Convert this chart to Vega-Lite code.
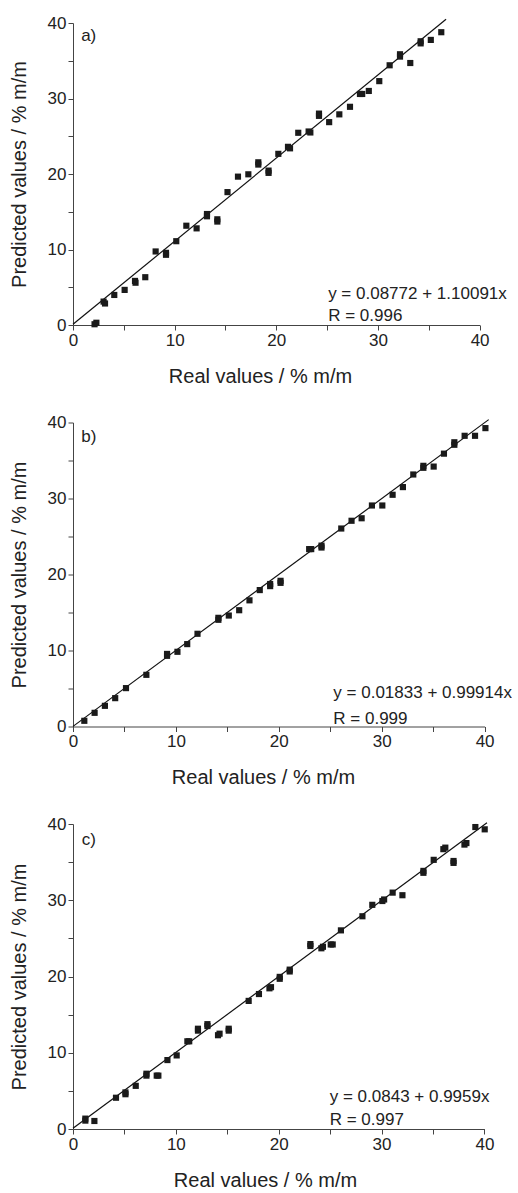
{
  "$schema": "https://vega.github.io/schema/vega-lite/v6.json",
  "padding": {"top": 14, "left": 9, "right": 0, "bottom": 0},
  "background": "white",
  "bounds": "flush",
  "spacing": 97.5,
  "config": {
    "view": {"stroke": null},
    "font": "Liberation Sans",
    "axis": {
      "domainColor": "#444", "tickColor": "#444", "labelColor": "#222", "titleColor": "#222",
      "labelFontSize": 17, "titleFontSize": 20, "titleFontWeight": "normal",
      "labelFont": "Liberation Sans", "titleFont": "Liberation Sans",
      "grid": false, "tickSize": 5, "labelFlush": false, "labelOverlap": false,
      "values": [0, 5, 10, 15, 20, 25, 30, 35, 40],
      "labelExpr": "datum.value % 10 === 0 ? datum.label : ''"
    },
    "axisX": {"titlePadding": 18},
    "axisY": {"titlePadding": 18}
  },
  "datasets": {
    "ptsA": [
      {"real": 2.12, "pred": 0.1}, {"real": 2.3, "pred": 0.3},
      {"real": 3.01, "pred": 3.1}, {"real": 3.15, "pred": 2.85},
      {"real": 4.06, "pred": 3.98},
      {"real": 5.08, "pred": 4.65},
      {"real": 6.1, "pred": 5.84}, {"real": 6.15, "pred": 5.6},
      {"real": 7.11, "pred": 6.33},
      {"real": 8.13, "pred": 9.74},
      {"real": 9.15, "pred": 9.56}, {"real": 9.15, "pred": 9.3},
      {"real": 10.16, "pred": 11.1},
      {"real": 11.15, "pred": 13.15},
      {"real": 12.16, "pred": 12.8},
      {"real": 13.18, "pred": 14.7}, {"real": 13.18, "pred": 14.4},
      {"real": 14.2, "pred": 14.0}, {"real": 14.2, "pred": 13.7},
      {"real": 15.2, "pred": 17.6},
      {"real": 16.23, "pred": 19.65},
      {"real": 17.25, "pred": 19.96},
      {"real": 18.23, "pred": 21.55}, {"real": 18.23, "pred": 21.25},
      {"real": 19.24, "pred": 20.45}, {"real": 19.24, "pred": 20.15},
      {"real": 20.2, "pred": 22.67},
      {"real": 21.15, "pred": 23.6}, {"real": 21.35, "pred": 23.4},
      {"real": 22.16, "pred": 25.46},
      {"real": 23.18, "pred": 25.63}, {"real": 23.35, "pred": 25.5},
      {"real": 24.2, "pred": 28.0}, {"real": 24.2, "pred": 27.7},
      {"real": 25.2, "pred": 26.87},
      {"real": 26.2, "pred": 27.9},
      {"real": 27.25, "pred": 28.9},
      {"real": 28.23, "pred": 30.6}, {"real": 28.45, "pred": 30.6},
      {"real": 29.1, "pred": 31.0},
      {"real": 30.13, "pred": 32.3},
      {"real": 31.15, "pred": 34.4},
      {"real": 32.17, "pred": 35.86}, {"real": 32.17, "pred": 35.55},
      {"real": 33.18, "pred": 34.7},
      {"real": 34.2, "pred": 37.58}, {"real": 34.2, "pred": 37.3},
      {"real": 35.2, "pred": 37.76},
      {"real": 36.23, "pred": 38.78}
    ],
    "ptsB": [
      {"real": 1.1, "pred": 0.75},
      {"real": 2.1, "pred": 1.8},
      {"real": 3.1, "pred": 2.72},
      {"real": 4.1, "pred": 3.73},
      {"real": 5.15, "pred": 5.05},
      {"real": 7.13, "pred": 6.8},
      {"real": 9.14, "pred": 9.3}, {"real": 9.14, "pred": 9.55},
      {"real": 10.15, "pred": 9.83},
      {"real": 11.1, "pred": 10.84},
      {"real": 12.1, "pred": 12.2},
      {"real": 14.13, "pred": 14.04}, {"real": 14.13, "pred": 14.3},
      {"real": 15.14, "pred": 14.6},
      {"real": 16.15, "pred": 15.3},
      {"real": 17.15, "pred": 16.6},
      {"real": 18.15, "pred": 17.95},
      {"real": 19.16, "pred": 18.47}, {"real": 19.16, "pred": 18.75},
      {"real": 20.17, "pred": 19.17}, {"real": 20.17, "pred": 18.9},
      {"real": 23.15, "pred": 23.34}, {"real": 22.95, "pred": 23.34},
      {"real": 24.15, "pred": 23.55}, {"real": 24.15, "pred": 23.8},
      {"real": 26.07, "pred": 26.05},
      {"real": 27.07, "pred": 27.07},
      {"real": 28.05, "pred": 27.4},
      {"real": 29.05, "pred": 29.08},
      {"real": 30.06, "pred": 29.08},
      {"real": 31.06, "pred": 30.49},
      {"real": 32.06, "pred": 31.5},
      {"real": 33.07, "pred": 33.16},
      {"real": 34.05, "pred": 34.04}, {"real": 34.05, "pred": 34.3},
      {"real": 35.05, "pred": 34.2},
      {"real": 36.05, "pred": 35.9},
      {"real": 37.06, "pred": 37.07}, {"real": 37.06, "pred": 37.4},
      {"real": 38.06, "pred": 38.25},
      {"real": 39.07, "pred": 38.25},
      {"real": 40.08, "pred": 39.26}
    ],
    "ptsC": [
      {"real": 1.2, "pred": 1.36}, {"real": 1.2, "pred": 1.1},
      {"real": 2.08, "pred": 1.05},
      {"real": 4.18, "pred": 4.1},
      {"real": 5.1, "pred": 4.56}, {"real": 5.1, "pred": 4.8},
      {"real": 6.1, "pred": 5.66},
      {"real": 7.14, "pred": 7.0}, {"real": 7.14, "pred": 7.25},
      {"real": 8.14, "pred": 7.0}, {"real": 8.3, "pred": 7.0},
      {"real": 9.18, "pred": 9.04},
      {"real": 10.08, "pred": 9.65},
      {"real": 11.12, "pred": 11.5}, {"real": 11.3, "pred": 11.5},
      {"real": 12.15, "pred": 12.9}, {"real": 12.15, "pred": 13.15},
      {"real": 13.07, "pred": 13.5}, {"real": 13.07, "pred": 13.75},
      {"real": 14.1, "pred": 12.3}, {"real": 14.25, "pred": 12.5},
      {"real": 15.14, "pred": 12.9}, {"real": 15.14, "pred": 13.15},
      {"real": 17.08, "pred": 16.8},
      {"real": 18.08, "pred": 17.7},
      {"real": 19.1, "pred": 18.45}, {"real": 19.25, "pred": 18.6},
      {"real": 20.1, "pred": 19.7}, {"real": 20.1, "pred": 19.95},
      {"real": 21.07, "pred": 20.66}, {"real": 21.07, "pred": 20.9},
      {"real": 23.08, "pred": 24.0}, {"real": 23.08, "pred": 24.25},
      {"real": 24.15, "pred": 23.7}, {"real": 24.3, "pred": 23.9},
      {"real": 25.06, "pred": 24.2}, {"real": 25.25, "pred": 24.2},
      {"real": 26.05, "pred": 26.05},
      {"real": 28.14, "pred": 27.9},
      {"real": 29.1, "pred": 29.4},
      {"real": 30.08, "pred": 29.9}, {"real": 30.25, "pred": 30.1},
      {"real": 31.08, "pred": 31.0},
      {"real": 32.03, "pred": 30.66},
      {"real": 34.07, "pred": 33.6}, {"real": 34.07, "pred": 33.85},
      {"real": 35.07, "pred": 35.3},
      {"real": 36.01, "pred": 36.7}, {"real": 36.2, "pred": 36.9},
      {"real": 37.0, "pred": 34.9}, {"real": 37.0, "pred": 35.15},
      {"real": 38.06, "pred": 37.3}, {"real": 38.25, "pred": 37.5},
      {"real": 39.12, "pred": 39.6},
      {"real": 40.03, "pred": 39.3}
    ],
    "fitA": [{"real": 0, "pred": 0.08772}, {"real": 36.7, "pred": 40.49}],
    "fitB": [{"real": 0, "pred": 0.01833}, {"real": 40.4, "pred": 40.38}],
    "fitC": [{"real": 0, "pred": 0.0843}, {"real": 40.25, "pred": 40.17}],
    "txtA": [
      {"real": 25.1, "pred": 3.4, "t": "y = 0.08772 + 1.10091x"},
      {"real": 25.1, "pred": 0.53, "t": "R = 0.996"},
      {"real": 0.8, "pred": 37.6, "t": "a)"}
    ],
    "txtB": [
      {"real": 25.3, "pred": 3.8, "t": "y = 0.01833 + 0.99914x"},
      {"real": 25.3, "pred": 0.3, "t": "R = 0.999"},
      {"real": 0.8, "pred": 37.5, "t": "b)"}
    ],
    "txtC": [
      {"real": 24.96, "pred": 3.58, "t": "y = 0.0843 + 0.9959x"},
      {"real": 24.96, "pred": 0.52, "t": "R = 0.997"},
      {"real": 0.85, "pred": 37.3, "t": "c)"}
    ]
  },
  "vconcat": [
    {
      "width": 406.6, "height": 302,
      "encoding": {
        "x": {"field": "real", "type": "quantitative", "scale": {"domain": [0, 40], "nice": false}, "axis": {"title": "Real values / % m/m", "titleX": 187}},
        "y": {"field": "pred", "type": "quantitative", "scale": {"domain": [0, 40], "nice": false}, "axis": {"title": "Predicted values / % m/m"}}
      },
      "layer": [
        {"data": {"name": "fitA"}, "mark": {"type": "line", "color": "#111", "strokeWidth": 1.2}},
        {"data": {"name": "ptsA"}, "mark": {"type": "point", "shape": "square", "filled": true, "size": 38, "color": "#1a1a1a", "opacity": 1}},
        {"data": {"name": "txtA"}, "mark": {"type": "text", "align": "left", "baseline": "alphabetic", "fontSize": 17, "color": "#222"}, "encoding": {"text": {"field": "t"}}}
      ]
    },
    {
      "width": 411.6, "height": 304,
      "encoding": {
        "x": {"field": "real", "type": "quantitative", "scale": {"domain": [0, 40], "nice": false}, "axis": {"title": "Real values / % m/m", "titleX": 190}},
        "y": {"field": "pred", "type": "quantitative", "scale": {"domain": [0, 40], "nice": false}, "axis": {"title": "Predicted values / % m/m"}}
      },
      "layer": [
        {"data": {"name": "fitB"}, "mark": {"type": "line", "color": "#111", "strokeWidth": 1.2}},
        {"data": {"name": "ptsB"}, "mark": {"type": "point", "shape": "square", "filled": true, "size": 38, "color": "#1a1a1a", "opacity": 1}},
        {"data": {"name": "txtB"}, "mark": {"type": "text", "align": "left", "baseline": "alphabetic", "fontSize": 17, "color": "#222"}, "encoding": {"text": {"field": "t"}}}
      ]
    },
    {
      "width": 411.4, "height": 305,
      "encoding": {
        "x": {"field": "real", "type": "quantitative", "scale": {"domain": [0, 40], "nice": false}, "axis": {"title": "Real values / % m/m", "titleX": 192}},
        "y": {"field": "pred", "type": "quantitative", "scale": {"domain": [0, 40], "nice": false}, "axis": {"title": "Predicted values / % m/m"}}
      },
      "layer": [
        {"data": {"name": "fitC"}, "mark": {"type": "line", "color": "#111", "strokeWidth": 1.2}},
        {"data": {"name": "ptsC"}, "mark": {"type": "point", "shape": "square", "filled": true, "size": 38, "color": "#1a1a1a", "opacity": 1}},
        {"data": {"name": "txtC"}, "mark": {"type": "text", "align": "left", "baseline": "alphabetic", "fontSize": 17, "color": "#222"}, "encoding": {"text": {"field": "t"}}}
      ]
    }
  ]
}
